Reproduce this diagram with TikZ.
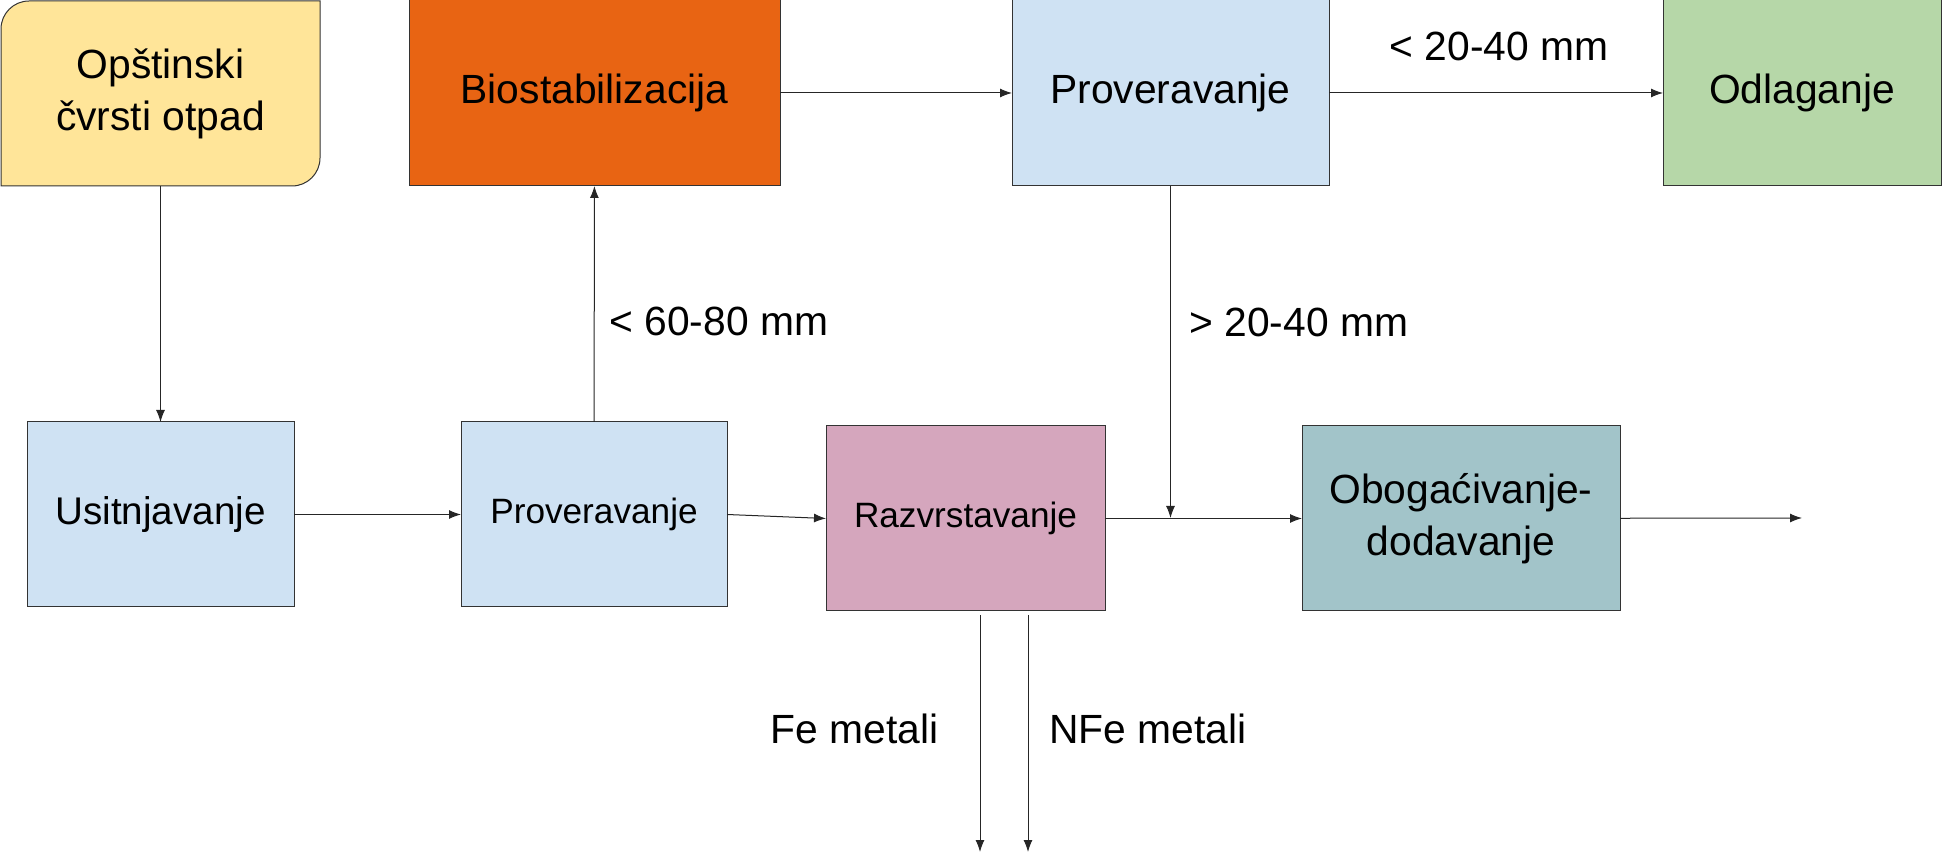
\documentclass[tikz,border=0pt]{standalone}
\usepackage{fontspec}
\setmainfont{Liberation Sans}
\usetikzlibrary{arrows.meta}
\definecolor{otpad}{HTML}{FFE599}
\definecolor{bio}{HTML}{E86413}
\definecolor{plava}{HTML}{CFE2F3}
\definecolor{zelena}{HTML}{B6D7A8}
\definecolor{roza}{HTML}{D5A6BD}
\definecolor{tirkiz}{HTML}{A2C4C9}

\begin{document}
\begin{tikzpicture}[x=0.5pt,y=0.5pt,
  box/.style={draw=black!80, line width=0.5pt, inner sep=0pt, outer sep=0pt, align=center, font=\fontsize{20.4}{26}\selectfont},
  smallbox/.style={box, font=\fontsize{17.6}{22}\selectfont},
  lbl/.style={inner sep=0pt, font=\fontsize{20.4}{26}\selectfont},
  arr/.style={draw=black!85, line width=0.5pt, -{Latex[length=6pt,width=4.5pt]}}]
\useasboundingbox (0,0) rectangle (1942,-854);
\filldraw[fill=otpad, draw=black!80, line width=0.5pt] (1,-186) -- (1,-29) arc[start angle=180, end angle=90, radius=14pt] -- (320,-1) -- (320,-158) arc[start angle=0, end angle=-90, radius=14pt] -- cycle;
\node[box, draw=none, minimum width=159.5pt, minimum height=92.5pt] (ops) at (160.5,-93.5) {Opštinski\\čvrsti otpad};
\node[box, fill=bio, minimum width=185.5pt, minimum height=93pt] (bio) at (594.5,-93) {Biostabilizacija};
\node[box, fill=plava, minimum width=158.5pt, minimum height=93pt] (prov1) at (1170.5,-93) {Proveravanje};
\node[box, fill=zelena, minimum width=139pt, minimum height=93pt] (odl) at (1802,-93) {Odlaganje};
\node[box, fill=plava, minimum width=133.5pt, minimum height=92.5pt, font=\fontsize{19.3}{24}\selectfont] (usit) at (160.5,-514.5) {Usitnjavanje};
\node[smallbox, fill=plava, minimum width=133pt, minimum height=92.5pt] (prov2) at (594,-514.5) {Proveravanje};
\node[smallbox, fill=roza, minimum width=139.5pt, minimum height=92.5pt] (razv) at (965.5,-518.5) {Razvrstavanje};
\node[box, fill=tirkiz, minimum width=159pt, minimum height=92.5pt] (obog) at (1461,-518.5) {Obogaćivanje-\\dodavanje};

\node[lbl, anchor=west] (l6080) at (609,-321) {< 60-80 mm};
\node[lbl] (l2040a) at (1499,-46) {< 20-40 mm};
\node[lbl, anchor=west] (l2040b) at (1189,-322) {> 20-40 mm};
\node[lbl, anchor=east] (lfe) at (939,-729) {Fe metali};
\node[lbl, anchor=west] (lnfe) at (1049,-729) {NFe metali};

\coordinate (join) at (1170.5,-518);
\coordinate (out) at (1802,-518);
\coordinate (fe-top) at (980,-615);
\coordinate (fe) at (980,-852);
\coordinate (nfe-top) at (1028,-615);
\coordinate (nfe) at (1028,-852);

\draw[arr] (ops) -- (usit);
\draw[arr] (usit) -- (prov2);
\draw[arr] (prov2.east) -- (razv.west);
\draw[arr] (prov2) -- (bio);
\draw[arr] (bio) -- (prov1);
\draw[arr] (prov1) -- (odl);
\draw[arr] (prov1) -- (join);
\draw[arr] (razv) -- (obog);
\draw[arr] (obog) -- (out);
\draw[arr] (fe-top) -- (fe);
\draw[arr] (nfe-top) -- (nfe);
\end{tikzpicture}
\end{document}
